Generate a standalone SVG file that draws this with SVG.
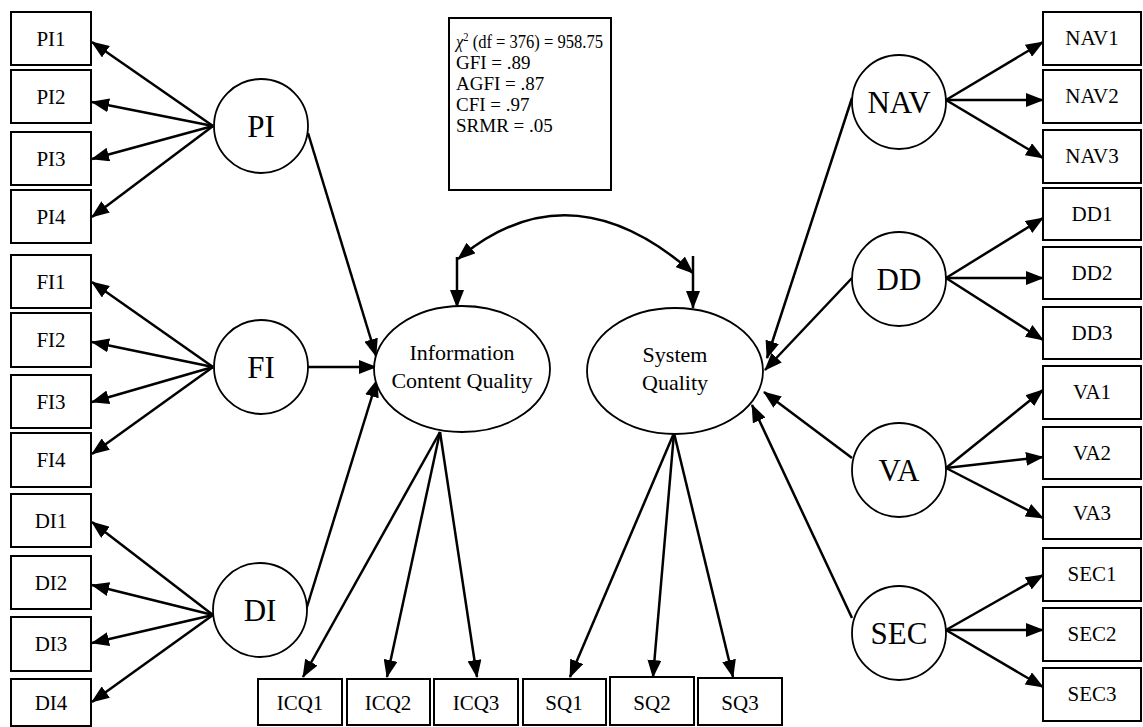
<svg xmlns="http://www.w3.org/2000/svg" width="1143" height="727" viewBox="0 0 1143 727">
<style>
  .box{fill:#fff;stroke:#000;stroke-width:2}
  .lat{fill:#fff;stroke:#000;stroke-width:1.8}
  .lbl{font-family:"Liberation Serif","Times New Roman",serif;font-size:21px;text-anchor:middle;fill:#000}
  .big{font-family:"Liberation Serif","Times New Roman",serif;font-size:31px;text-anchor:middle;fill:#000}
  .mid{font-family:"Liberation Serif","Times New Roman",serif;font-size:22px;text-anchor:middle;fill:#000}
  .st{font-family:"Liberation Serif","Times New Roman",serif;font-size:19px;fill:#000}
  .c line,.c path{stroke:#000;stroke-width:2.5;fill:none}
</style>
<defs>
  <marker id="ah" markerUnits="userSpaceOnUse" markerWidth="18" markerHeight="14" refX="17" refY="7" orient="auto-start-reverse" viewBox="0 0 18 14">
    <path d="M0,0 L18,7 L0,14 z" fill="#000"/>
  </marker>
</defs>
<rect width="1143" height="727" fill="#fff"/>

<g class="c" id="connectors">
  <line x1="213" y1="126" x2="92" y2="42" marker-end="url(#ah)"/>
  <line x1="213" y1="126" x2="92" y2="102" marker-end="url(#ah)"/>
  <line x1="213" y1="126" x2="92" y2="159" marker-end="url(#ah)"/>
  <line x1="213" y1="126" x2="92" y2="217" marker-end="url(#ah)"/>
  <line x1="213" y1="367" x2="92" y2="282" marker-end="url(#ah)"/>
  <line x1="213" y1="367" x2="92" y2="342" marker-end="url(#ah)"/>
  <line x1="213" y1="367" x2="92" y2="402" marker-end="url(#ah)"/>
  <line x1="213" y1="367" x2="92" y2="454" marker-end="url(#ah)"/>
  <line x1="213" y1="615" x2="92" y2="522" marker-end="url(#ah)"/>
  <line x1="213" y1="615" x2="92" y2="585" marker-end="url(#ah)"/>
  <line x1="213" y1="615" x2="92" y2="643" marker-end="url(#ah)"/>
  <line x1="213" y1="615" x2="92" y2="702" marker-end="url(#ah)"/>
  <line x1="946" y1="100" x2="1043" y2="42" marker-end="url(#ah)"/>
  <line x1="946" y1="100" x2="1043" y2="100" marker-end="url(#ah)"/>
  <line x1="946" y1="100" x2="1043" y2="158" marker-end="url(#ah)"/>
  <line x1="946" y1="278" x2="1043" y2="218" marker-end="url(#ah)"/>
  <line x1="946" y1="278" x2="1043" y2="278" marker-end="url(#ah)"/>
  <line x1="946" y1="278" x2="1043" y2="340" marker-end="url(#ah)"/>
  <line x1="946" y1="468" x2="1043" y2="390" marker-end="url(#ah)"/>
  <line x1="946" y1="468" x2="1043" y2="457" marker-end="url(#ah)"/>
  <line x1="946" y1="468" x2="1043" y2="518" marker-end="url(#ah)"/>
  <line x1="946" y1="630" x2="1043" y2="575" marker-end="url(#ah)"/>
  <line x1="946" y1="630" x2="1043" y2="630" marker-end="url(#ah)"/>
  <line x1="946" y1="630" x2="1043" y2="687" marker-end="url(#ah)"/>
  <line x1="308" y1="133" x2="376" y2="356" marker-end="url(#ah)"/>
  <line x1="308" y1="367" x2="376" y2="367" marker-end="url(#ah)"/>
  <line x1="306" y1="610" x2="377" y2="380" marker-end="url(#ah)"/>
  <line x1="852" y1="98" x2="767" y2="358" marker-end="url(#ah)"/>
  <line x1="852" y1="278" x2="765" y2="370" marker-end="url(#ah)"/>
  <line x1="852" y1="458" x2="764" y2="392" marker-end="url(#ah)"/>
  <line x1="852" y1="618" x2="752" y2="405" marker-end="url(#ah)"/>
  <line x1="440" y1="432" x2="303" y2="677" marker-end="url(#ah)"/>
  <line x1="440" y1="432" x2="387" y2="677" marker-end="url(#ah)"/>
  <line x1="440" y1="432" x2="477" y2="677" marker-end="url(#ah)"/>
  <line x1="674" y1="433" x2="570" y2="677" marker-end="url(#ah)"/>
  <line x1="674" y1="433" x2="653" y2="677" marker-end="url(#ah)"/>
  <line x1="674" y1="433" x2="733" y2="677" marker-end="url(#ah)"/>
  <line x1="457" y1="257" x2="457" y2="307" marker-end="url(#ah)"/>
  <line x1="693" y1="256" x2="693" y2="308" marker-end="url(#ah)"/>
  <path d="M458,259 Q570,165 693,273" marker-start="url(#ah)" marker-end="url(#ah)"/>
</g>

<g id="stats">
  <rect class="box" x="449" y="18" width="162" height="172"/>
  <text class="st" x="456" y="48" textLength="147" lengthAdjust="spacingAndGlyphs"><tspan font-style="italic">χ</tspan><tspan font-size="12" dy="-7">2</tspan><tspan dy="7"> (df = 376) = 958.75</tspan></text>
  <text class="st" x="456" y="69">GFI = .89</text>
  <text class="st" x="456" y="90">AGFI = .87</text>
  <text class="st" x="456" y="111">CFI = .97</text>
  <text class="st" x="456" y="132">SRMR = .05</text>
</g>

<g id="PI"><circle class="lat" cx="261" cy="126" r="47"/><text class="big" x="261" y="137">PI</text></g>
<g id="FI"><circle class="lat" cx="261" cy="367" r="47"/><text class="big" x="261" y="378">FI</text></g>
<g id="DI"><circle class="lat" cx="260" cy="610" r="47"/><text class="big" x="260" y="621">DI</text></g>
<g id="NAV"><circle class="lat" cx="899" cy="102" r="47"/><text class="big" x="899" y="113">NAV</text></g>
<g id="DD"><circle class="lat" cx="899" cy="279" r="47"/><text class="big" x="899" y="290">DD</text></g>
<g id="VA"><circle class="lat" cx="899" cy="470" r="47"/><text class="big" x="899" y="481">VA</text></g>
<g id="SEC"><circle class="lat" cx="899" cy="633" r="47"/><text class="big" x="899" y="644">SEC</text></g>

<g id="ICQ"><ellipse class="lat" cx="462" cy="369" rx="88" ry="63"/>
  <text class="mid" x="462" y="360">Information</text><text class="mid" x="462" y="388">Content Quality</text></g>
<g id="SQ"><ellipse class="lat" cx="675" cy="371" rx="88" ry="63"/>
  <text class="mid" x="675" y="362">System</text><text class="mid" x="675" y="390">Quality</text></g>

<g id="PI1"><rect class="box" x="11" y="12" width="80" height="53"/><text class="lbl" x="51" y="46">PI1</text></g>
<g id="PI2"><rect class="box" x="11" y="70" width="80" height="53"/><text class="lbl" x="51" y="104">PI2</text></g>
<g id="PI3"><rect class="box" x="11" y="132" width="80" height="53"/><text class="lbl" x="51" y="166">PI3</text></g>
<g id="PI4"><rect class="box" x="11" y="190" width="80" height="53"/><text class="lbl" x="51" y="224">PI4</text></g>
<g id="FI1"><rect class="box" x="11" y="255" width="80" height="53"/><text class="lbl" x="51" y="289">FI1</text></g>
<g id="FI2"><rect class="box" x="11" y="313" width="80" height="54"/><text class="lbl" x="51" y="347">FI2</text></g>
<g id="FI3"><rect class="box" x="11" y="375" width="80" height="53"/><text class="lbl" x="51" y="409">FI3</text></g>
<g id="FI4"><rect class="box" x="11" y="433" width="80" height="54"/><text class="lbl" x="51" y="467">FI4</text></g>
<g id="DI1"><rect class="box" x="11" y="494" width="80" height="53"/><text class="lbl" x="51" y="528">DI1</text></g>
<g id="DI2"><rect class="box" x="11" y="556" width="80" height="53"/><text class="lbl" x="51" y="590">DI2</text></g>
<g id="DI3"><rect class="box" x="11" y="617" width="80" height="54"/><text class="lbl" x="51" y="651">DI3</text></g>
<g id="DI4"><rect class="box" x="11" y="679" width="80" height="47"/><text class="lbl" x="51" y="710">DI4</text></g>

<g id="NAV1"><rect class="box" x="1043" y="12" width="98" height="53"/><text class="lbl" x="1092" y="45">NAV1</text></g>
<g id="NAV2"><rect class="box" x="1043" y="70" width="98" height="53"/><text class="lbl" x="1092" y="103">NAV2</text></g>
<g id="NAV3"><rect class="box" x="1043" y="130" width="98" height="53"/><text class="lbl" x="1092" y="163">NAV3</text></g>
<g id="DD1"><rect class="box" x="1043" y="188" width="98" height="52"/><text class="lbl" x="1092" y="221">DD1</text></g>
<g id="DD2"><rect class="box" x="1043" y="247" width="98" height="52"/><text class="lbl" x="1092" y="280">DD2</text></g>
<g id="DD3"><rect class="box" x="1043" y="307" width="98" height="52"/><text class="lbl" x="1092" y="340">DD3</text></g>
<g id="VA1"><rect class="box" x="1043" y="366" width="98" height="53"/><text class="lbl" x="1092" y="399">VA1</text></g>
<g id="VA2"><rect class="box" x="1043" y="427" width="98" height="52"/><text class="lbl" x="1092" y="460">VA2</text></g>
<g id="VA3"><rect class="box" x="1043" y="487" width="98" height="52"/><text class="lbl" x="1092" y="520">VA3</text></g>
<g id="SEC1"><rect class="box" x="1043" y="548" width="98" height="53"/><text class="lbl" x="1092" y="581">SEC1</text></g>
<g id="SEC2"><rect class="box" x="1043" y="608" width="98" height="53"/><text class="lbl" x="1092" y="641">SEC2</text></g>
<g id="SEC3"><rect class="box" x="1043" y="668" width="98" height="53"/><text class="lbl" x="1092" y="701">SEC3</text></g>

<g id="ICQ1"><rect class="box" x="258" y="679" width="84" height="46"/><text class="lbl" x="300" y="710">ICQ1</text></g>
<g id="ICQ2"><rect class="box" x="347" y="679" width="83" height="46"/><text class="lbl" x="388" y="710">ICQ2</text></g>
<g id="ICQ3"><rect class="box" x="434" y="679" width="84" height="46"/><text class="lbl" x="476" y="710">ICQ3</text></g>
<g id="SQ1"><rect class="box" x="523" y="679" width="83" height="46"/><text class="lbl" x="564" y="710">SQ1</text></g>
<g id="SQ2"><rect class="box" x="610" y="677" width="84" height="48"/><text class="lbl" x="652" y="710">SQ2</text></g>
<g id="SQ3"><rect class="box" x="698" y="678" width="84" height="47"/><text class="lbl" x="740" y="710">SQ3</text></g>
</svg>
